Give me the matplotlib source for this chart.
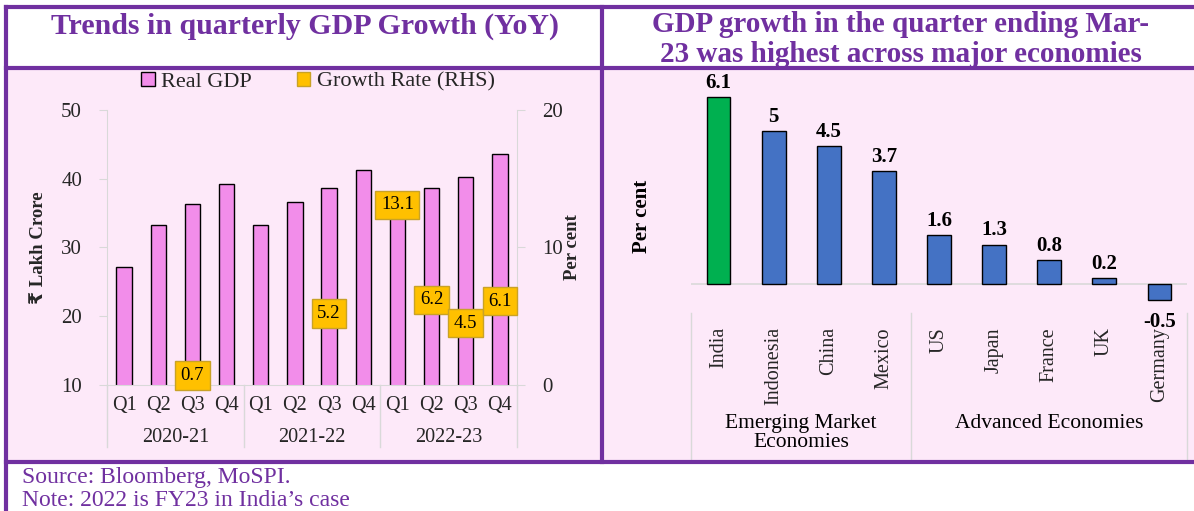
import matplotlib
matplotlib.use('Agg')
import matplotlib.pyplot as plt
import matplotlib.transforms as mtransforms
from matplotlib.patches import Rectangle, Patch
from matplotlib.lines import Line2D
import numpy as np

# ---- data ----
years = ['2020-21', '2021-22', '2022-23']
quarters = ['Q1', 'Q2', 'Q3', 'Q4']
real_gdp = [27.1, 33.2, 36.3, 39.2, 33.2, 36.6, 38.6, 41.2, 36.9, 38.7, 40.2, 43.6]
growth = [np.nan, np.nan, 0.7, np.nan, np.nan, np.nan, 5.2, np.nan, 13.1, 6.2, 4.5, 6.1]

countries = ['India', 'Indonesia', 'China', 'Mexico', 'US', 'Japan', 'France', 'UK', 'Germany']
country_growth = [6.1, 5, 4.5, 3.7, 1.6, 1.3, 0.8, 0.2, -0.5]
groups = ['Emerging Market\nEconomies', 'Advanced Economies']
group_sizes = [4, 5]

W, H = 1194, 511
PURPLE = '#7030A0'
PINK_BG = '#FDE9F9'
BAR_PINK = '#F28DEA'
GOLD = '#FFC000'
BLUE = '#4472C4'
GREEN = '#00B050'
GRID = '#D9D9D9'
TXT = '#262626'
SERIF = ['Liberation Serif', 'DejaVu Serif']
plt.rcParams['font.family'] = SERIF

fig = plt.figure(figsize=(W / 100, H / 100), dpi=100)


def fx(x):
    return x / W


def fy(y):
    return 1 - y / H


def box(l, t, r, b):
    return [fx(l), fy(b), (r - l) / W, (b - t) / H]


# background panels and frame
fig.patches.append(Rectangle((fx(6), fy(462)), fx(W - 6), (462 - 68) / H,
                             transform=fig.transFigure, facecolor=PINK_BG, edgecolor='none', zorder=-5))
for xs, ys in [([6, W], [7, 7]), ([6, W], [68, 68]), ([6, W], [462, 462]),
               ([6, 6], [7, H]), ([602, 602], [7, 462])]:
    fig.add_artist(Line2D([fx(v) for v in xs], [fy(v) for v in ys], color=PURPLE, lw=3,
                          transform=fig.transFigure, zorder=5))

fig.text(fx(305), fy(26), 'Trends in quarterly GDP Growth (YoY)', ha='center', va='center',
         fontsize=21.5, fontweight='bold', color=PURPLE)
fig.text(fx(901), fy(25), 'GDP growth in the quarter ending Mar-', ha='center', va='center',
         fontsize=21, fontweight='bold', color=PURPLE)
fig.text(fx(901), fy(54.5), '23 was highest across major economies', ha='center', va='center',
         fontsize=21, fontweight='bold', color=PURPLE)
fig.text(fx(22), fy(478), 'Source: Bloomberg, MoSPI.', ha='left', va='center', fontsize=17, color=PURPLE)
fig.text(fx(22), fy(500), 'Note: 2022 is FY23 in India\u2019s case', ha='left', va='center',
         fontsize=17, color=PURPLE)

# ---- left chart ----
ax1 = fig.add_axes(box(107, 110, 517, 385))
ax1.set_facecolor('none')
x = np.arange(len(real_gdp))
ax1.bar(x, real_gdp, width=0.45, color=BAR_PINK, edgecolor='black', linewidth=1.0, zorder=2)
ax1.set_xlim(-0.5, len(real_gdp) - 0.5)
ax1.set_ylim(10, 50)
ax1.set_yticks([10, 20, 30, 40, 50])
ax1.set_xticks([])
for s in ['top', 'right']:
    ax1.spines[s].set_visible(False)
for s in ['left', 'bottom']:
    ax1.spines[s].set_color(GRID)
ax1.tick_params(axis='y', colors=GRID, labelcolor=TXT, labelsize=15, length=6, pad=12)
ax1.set_ylabel('\u20b9 Lakh Crore', fontsize=13.5, fontweight='bold', color=TXT,
               family=['Liberation Serif', 'DejaVu Sans'], labelpad=10)

ax2 = ax1.twinx()
ax2.set_ylim(0, 20)
ax2.set_yticks([0, 10, 20])
ax2.spines['right'].set_color(GRID)
for s in ['top', 'left', 'bottom']:
    ax2.spines[s].set_visible(False)
ax2.tick_params(axis='y', colors=GRID, labelcolor=TXT, labelsize=15, length=6, pad=12)
ax2.set_ylabel('Per cent', fontsize=13.5, fontweight='bold', color=TXT, labelpad=1)
for xi, g in zip(x, growth):
    if not np.isnan(g):
        ax2.text(xi, g, f'{g:.1f}', ha='center', va='center', fontsize=13.5, color='black',
                 bbox=dict(boxstyle='square,pad=0.3', facecolor=GOLD, edgecolor='#C9A227', lw=1),
                 zorder=5)

trans1 = mtransforms.blended_transform_factory(ax1.transData, fig.transFigure)
for i in range(len(real_gdp)):
    ax1.text(i, fy(405), quarters[i % 4], transform=trans1, ha='center', va='center',
             fontsize=14.5, color=TXT)
for gi, yr in enumerate(years):
    ax1.text(gi * 4 + 1.5, fy(437), yr, transform=trans1, ha='center', va='center',
             fontsize=14.5, color=TXT)
for b in [-0.5, 3.5, 7.5, 11.5]:
    ax1.plot([b, b], [fy(385), fy(447)], transform=trans1, color=GRID, lw=1, clip_on=False)

handles = [Patch(facecolor=BAR_PINK, edgecolor='black', label='Real GDP'),
           Patch(facecolor=GOLD, edgecolor='#C9A227', label='Growth Rate (RHS)')]
fig.legend(handles=handles, loc='center', bbox_to_anchor=(fx(318), fy(82)), ncol=2,
           frameon=False, fontsize=16, handlelength=0.6, handleheight=0.6,
           handletextpad=0.3, columnspacing=2.0, labelcolor=TXT, borderpad=0)

# ---- right chart ----
ax3 = fig.add_axes(box(691, 91, 1187, 309))
ax3.set_facecolor('none')
xc = np.arange(len(countries))
colors = [GREEN] + [BLUE] * (len(countries) - 1)
ax3.bar(xc, country_growth, width=0.43, color=colors, edgecolor='black', linewidth=1.0, zorder=2)
ax3.set_xlim(-0.5, len(countries) - 0.5)
ax3.set_ylim(-0.8, 6.3)
ax3.axhline(0, color=GRID, lw=1.2, zorder=1)
ax3.set_xticks([])
ax3.set_yticks([])
for s in ax3.spines.values():
    s.set_visible(False)
for xi, v in zip(xc, country_growth):
    lab = f'{v:g}'
    if v >= 0:
        ax3.annotate(lab, (xi, v), xytext=(0, 3), textcoords='offset points', ha='center',
                     va='bottom', fontsize=15, fontweight='bold', color='black')
    else:
        ax3.annotate(lab, (xi, v), xytext=(0, -9), textcoords='offset points', ha='center',
                     va='top', fontsize=15, fontweight='bold', color='black', zorder=6)
fig.text(fx(642), fy(216), 'Per cent', rotation=90, ha='center', va='center', fontsize=15,
         fontweight='bold', color='black')

trans3 = mtransforms.blended_transform_factory(ax3.transData, fig.transFigure)
for xi, c in zip(xc, countries):
    ax3.text(xi, fy(327), c, transform=trans3, rotation=90, ha='center', va='top',
             fontsize=14.5, color=TXT)
bounds = np.concatenate([[0], np.cumsum(group_sizes)]) - 0.5
for b in bounds:
    ax3.plot([b, b], [fy(313), fy(462)], transform=trans3, color=GRID, lw=1, clip_on=False)
for gi, g in enumerate(groups):
    cx = (bounds[gi] + bounds[gi + 1]) / 2
    ax3.text(cx, fy(414), g, transform=trans3, ha='center', va='top',
             fontsize=15.5, color='black', linespacing=1.0)

fig.savefig('out.png', dpi=100)
